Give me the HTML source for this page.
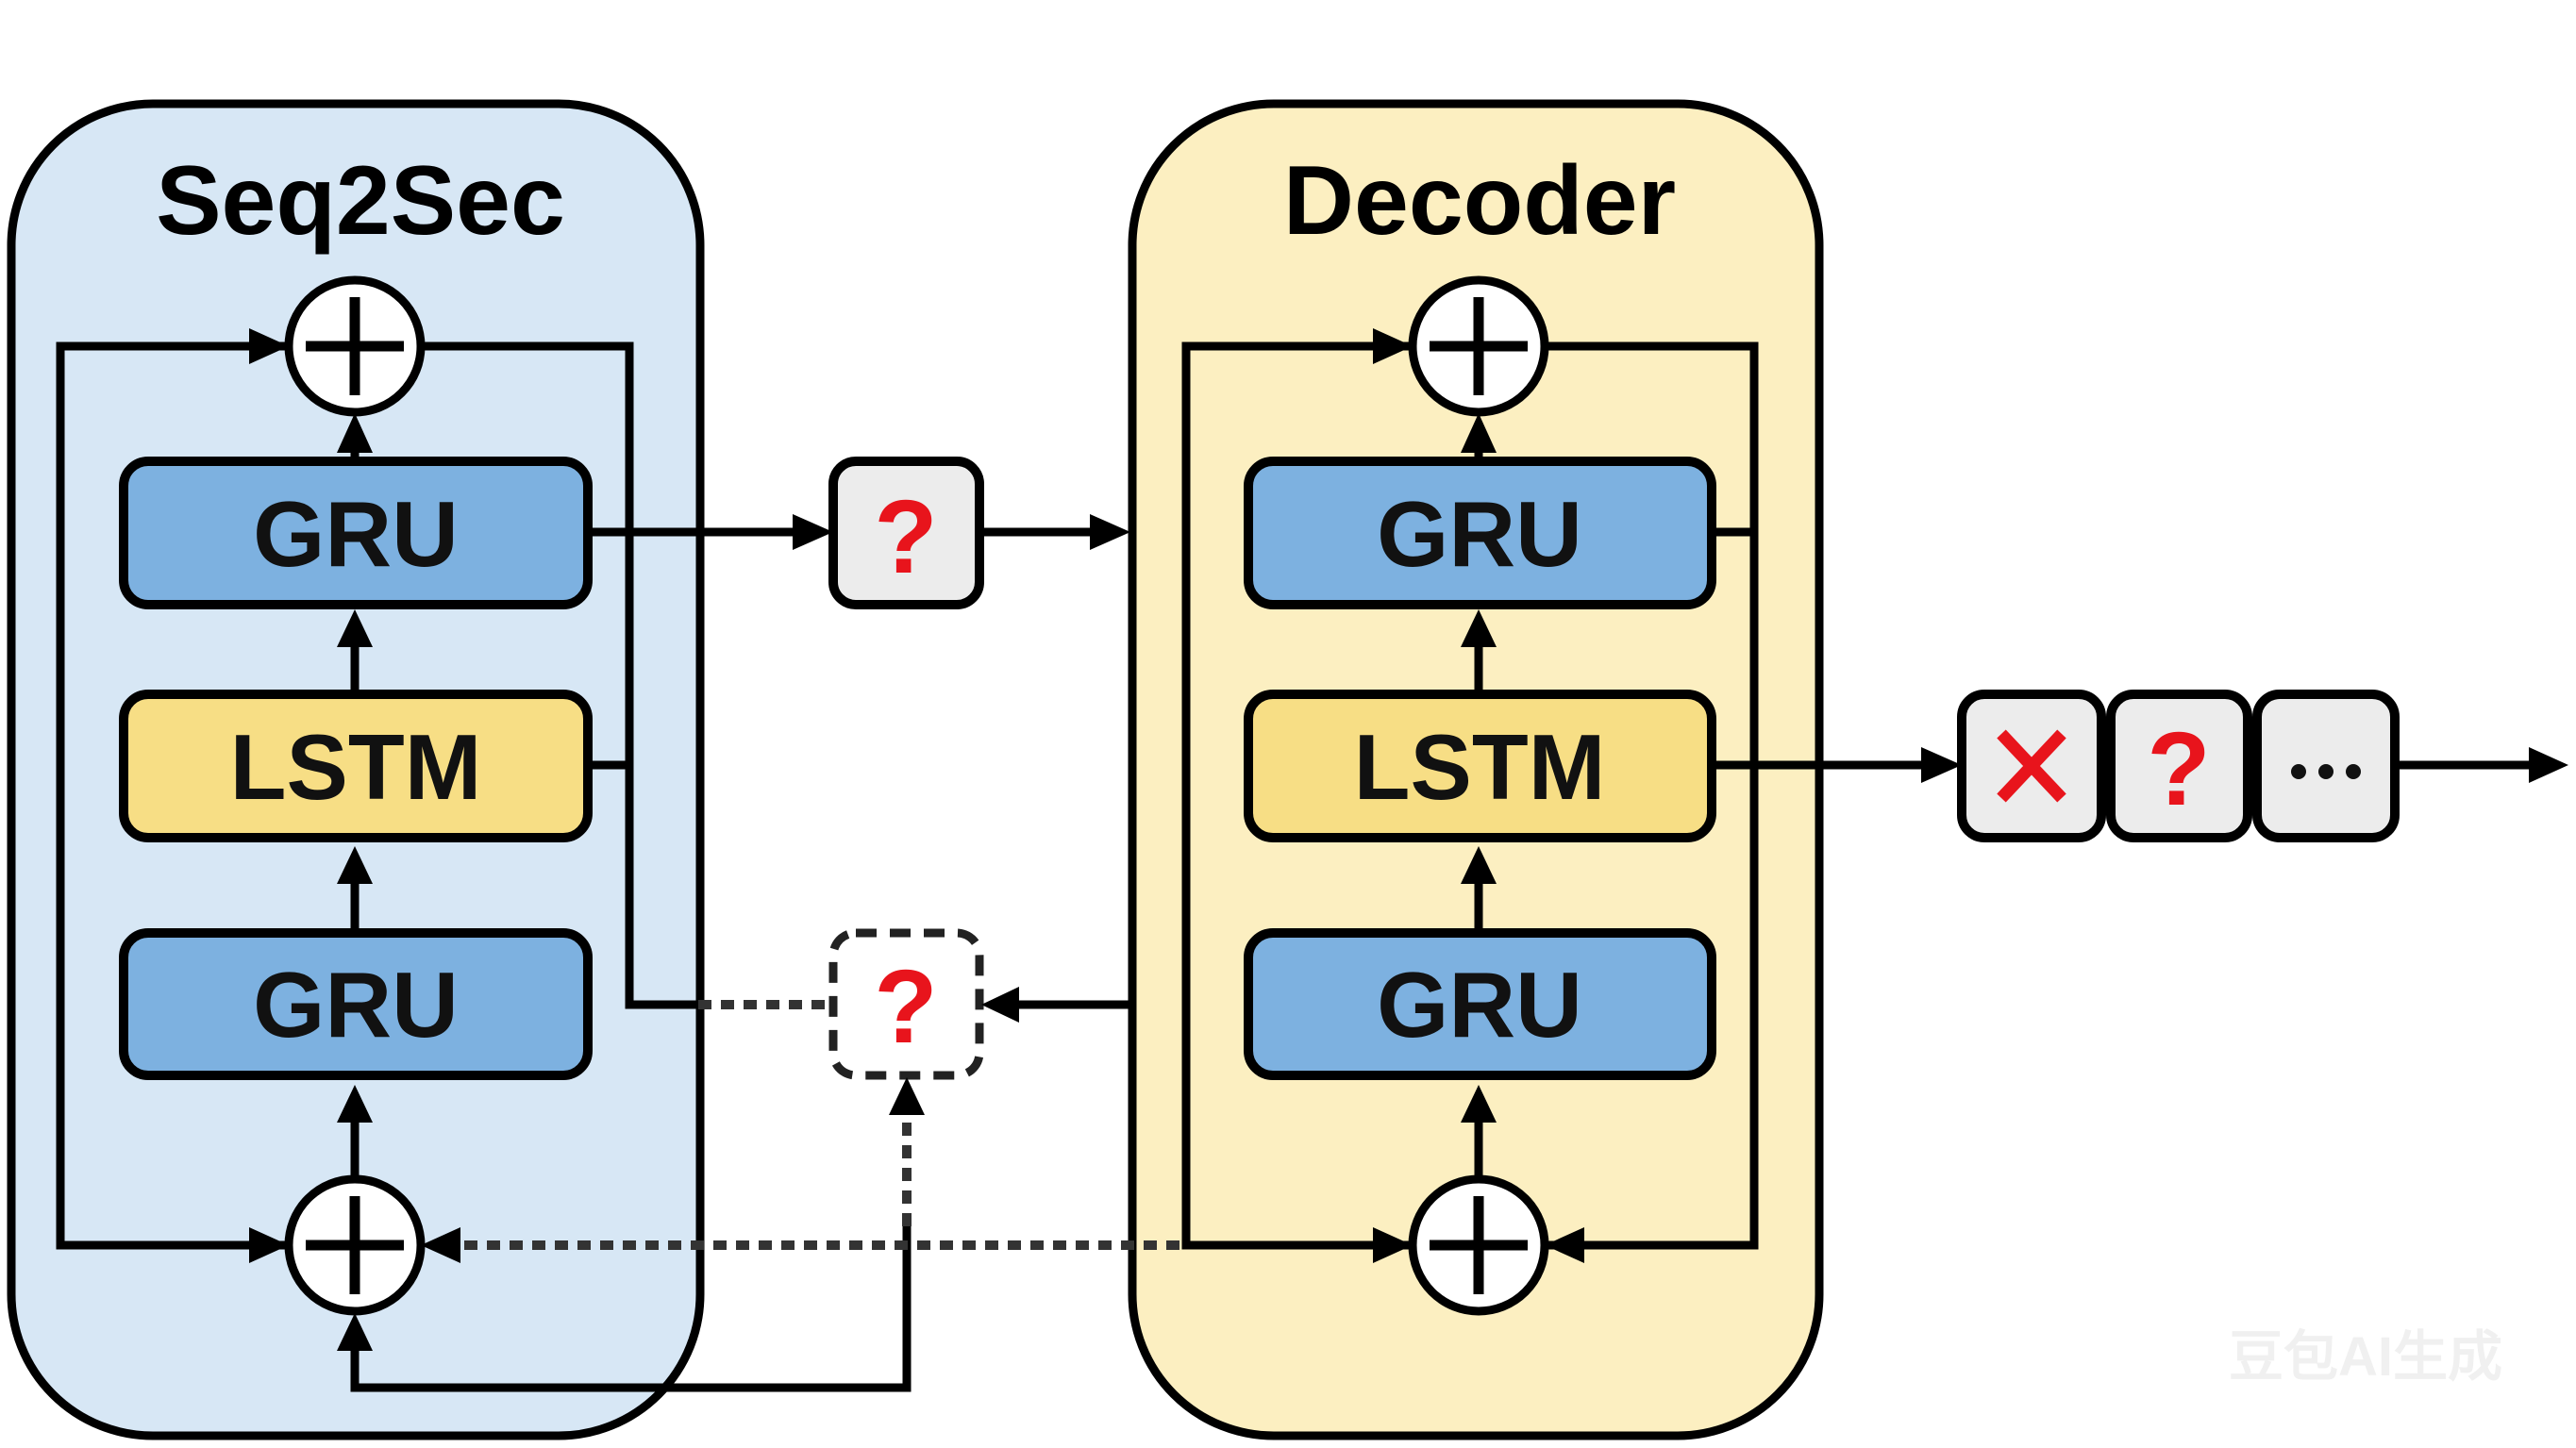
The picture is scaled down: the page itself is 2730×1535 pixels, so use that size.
<!DOCTYPE html>
<html><head><meta charset="utf-8"><style>
html,body{margin:0;padding:0;background:#fff;}
svg{display:block;}
text{font-family:"Liberation Sans","DejaVu Sans",sans-serif;font-weight:bold;}
</style></head><body>
<svg width="2730" height="1535" viewBox="0 0 2730 1535" xmlns="http://www.w3.org/2000/svg">
<!-- panels -->
<rect x="12" y="110" width="730" height="1412" rx="150" fill="#d7e7f5" stroke="#000" stroke-width="9"/>
<rect x="1200" y="110" width="728" height="1412" rx="150" fill="#fcefc1" stroke="#000" stroke-width="9"/>
<text x="382" y="248" font-size="104" text-anchor="middle">Seq2Sec</text>
<text x="1568" y="248" font-size="104" text-anchor="middle">Decoder</text>

<g stroke="#000" stroke-width="9" fill="none">
<polyline points="310,367 64,367 64,1320 310,1320"/>
<polyline points="446,367 667,367 667,1065 740,1065"/>
<line x1="623" y1="811" x2="667" y2="811"/>
<line x1="623" y1="564" x2="850" y2="564"/>
<line x1="1038" y1="564" x2="1165" y2="564"/>
<line x1="376" y1="489" x2="376" y2="450"/>
<line x1="376" y1="736" x2="376" y2="680"/>
<line x1="376" y1="989" x2="376" y2="930"/>
<line x1="376" y1="1250" x2="376" y2="1180"/>
<polyline points="376,1430 376,1471 961,1471 961,1300"/>
<line x1="1198" y1="1065" x2="1080" y2="1065"/>
<polyline points="1500,367 1257,367 1257,1320 1500,1320"/>
<polyline points="1637,367 1859,367 1859,1320 1637,1320"/>
<line x1="1814" y1="564" x2="1859" y2="564"/>
<line x1="1814" y1="811" x2="2045" y2="811"/>
<line x1="2538" y1="811" x2="2690" y2="811"/>
<line x1="1567" y1="489" x2="1567" y2="450"/>
<line x1="1567" y1="736" x2="1567" y2="680"/>
<line x1="1567" y1="989" x2="1567" y2="930"/>
<line x1="1567" y1="1250" x2="1567" y2="1180"/>
</g>
<g stroke="#333" stroke-width="10" fill="none" stroke-dasharray="14 10">
<line x1="740" y1="1065" x2="880" y2="1065"/>
<line x1="1250" y1="1320" x2="485" y2="1320"/>
<line x1="961" y1="1300" x2="961" y2="1180"/>
</g>
<!-- blocks -->
<g stroke="#000" stroke-width="10">
<rect x="131" y="489" width="492" height="152" rx="26" fill="#7db1e0"/>
<rect x="131" y="736" width="492" height="152" rx="26" fill="#f7de85"/>
<rect x="131" y="989" width="492" height="151" rx="26" fill="#7db1e0"/>
<rect x="1323" y="489" width="491" height="152" rx="26" fill="#7db1e0"/>
<rect x="1323" y="736" width="491" height="152" rx="26" fill="#f7de85"/>
<rect x="1323" y="989" width="491" height="151" rx="26" fill="#7db1e0"/>
<rect x="883" y="489" width="155" height="152" rx="24" fill="#ececec"/>
<rect x="2079" y="736" width="148" height="152" rx="24" fill="#ececec"/>
<rect x="2237" y="736" width="145" height="152" rx="24" fill="#ececec"/>
<rect x="2392" y="736" width="146" height="152" rx="24" fill="#ececec"/>
</g>
<rect x="883" y="989" width="155" height="151" rx="24" fill="#fff" stroke="#222" stroke-width="9" stroke-dasharray="22 14"/>
<!-- circles -->
<g stroke="#000" stroke-width="9" fill="#fff">
<circle cx="376" cy="367" r="70"/>
<circle cx="376" cy="1320" r="70"/>
<circle cx="1567" cy="367" r="70"/>
<circle cx="1567" cy="1320" r="70"/>
</g>
<g stroke="#000" stroke-width="11">
<line x1="324" y1="367" x2="428" y2="367"/><line x1="376" y1="315" x2="376" y2="419"/>
<line x1="324" y1="1320" x2="428" y2="1320"/><line x1="376" y1="1268" x2="376" y2="1372"/>
<line x1="1515" y1="367" x2="1619" y2="367"/><line x1="1567" y1="315" x2="1567" y2="419"/>
<line x1="1515" y1="1320" x2="1619" y2="1320"/><line x1="1567" y1="1268" x2="1567" y2="1372"/>
</g>
<!-- arrowheads -->
<g fill="#000">
<polygon points="264,348 306,367 264,386"/>
<polygon points="264,1301 306,1320 264,1339"/>
<polygon points="488,1301 446,1320 488,1339"/>
<polygon points="840,545 883,564 840,583"/>
<polygon points="1155,545 1198,564 1155,583"/>
<polygon points="1080,1046 1040,1065 1080,1084"/>
<polygon points="942,1182 961,1142 980,1182"/>
<polygon points="357,480 376,438 395,480"/>
<polygon points="357,686 376,646 395,686"/>
<polygon points="357,937 376,897 395,937"/>
<polygon points="357,1190 376,1150 395,1190"/>
<polygon points="357,1432 376,1392 395,1432"/>
<polygon points="1455,348 1497,367 1455,386"/>
<polygon points="1455,1301 1497,1320 1455,1339"/>
<polygon points="1679,1301 1637,1320 1679,1339"/>
<polygon points="1548,480 1567,438 1586,480"/>
<polygon points="1548,686 1567,646 1586,686"/>
<polygon points="1548,937 1567,897 1586,937"/>
<polygon points="1548,1190 1567,1150 1586,1190"/>
<polygon points="2036,792 2079,811 2036,830"/>
<polygon points="2680,792 2722,811 2680,830"/>
</g>
<!-- labels -->
<g font-size="98" text-anchor="middle" fill="#111">
<text x="377" y="600">GRU</text>
<text x="377" y="847">LSTM</text>
<text x="377" y="1099">GRU</text>
<text x="1568" y="600">GRU</text>
<text x="1568" y="847">LSTM</text>
<text x="1568" y="1099">GRU</text>
</g>
<g font-size="110" text-anchor="middle" fill="#e8141c">
<text x="960" y="607">?</text>
<text x="960" y="1105">?</text>
<text x="2309" y="853">?</text>
</g>
<g stroke="#e8141c" stroke-width="13">
<line x1="2121" y1="778" x2="2185" y2="846"/><line x1="2185" y1="778" x2="2121" y2="846"/>
</g>
<g fill="#111"><circle cx="2436" cy="818" r="8"/><circle cx="2465" cy="818" r="8"/><circle cx="2494" cy="818" r="8"/></g>
<text x="2507" y="1458" font-size="58" text-anchor="middle" fill="#f0f0f0">豆包AI生成</text>
</svg>
</body></html>
